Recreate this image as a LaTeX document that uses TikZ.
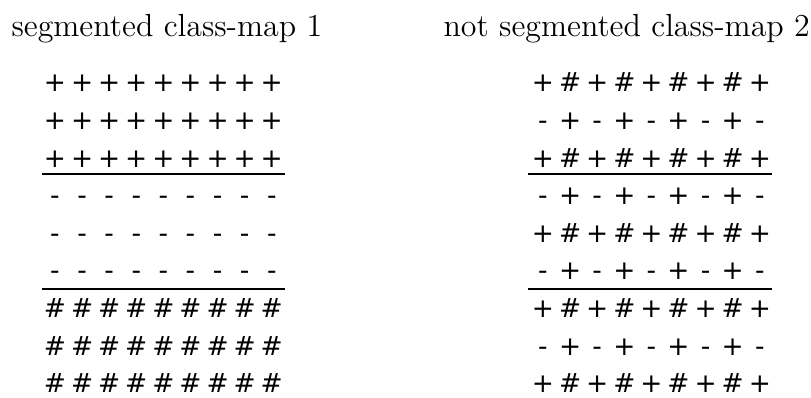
\documentclass[tikz,border=0pt]{standalone}
\usepackage{fontspec}
\newfontfamily\symfont{DejaVu Sans}
\usetikzlibrary{positioning}
\tikzset{
	maptitle/.style={anchor=base west, inner sep=0pt, font=\fontsize{11.5}{13}\selectfont},
	mapsym/.style={anchor=base, inner sep=0pt, font=\symfont\fontsize{9.5}{11}\selectfont},
	sepline/.style={line width=0.55pt},
}
\begin{document}
\begin{tikzpicture}[x=0.36pt, y=-0.36pt]
	\useasboundingbox (0,0) rectangle (811,398);
	\node[maptitle] (title1) at (11,37) {segmented class-map 1};
	\node[maptitle] (title2) at (443,37) {not segmented class-map 2};
	% map 1: three blocks of rows
	\foreach \row in {0,...,8}
		\foreach \col in {0,...,8} {
			\ifnum\row<3 \def\sym{+}\else\ifnum\row<6 \def\sym{-}\else\def\sym{\#}\fi\fi
			\node[mapsym] (l-\row-\col) at (55+\col*27.1, 92+\row*37.6) {\sym};
		}
	% map 2: alternating rows
	\foreach \row in {0,...,8}
		\foreach \col in {0,...,8} {
			\ifodd\row
				\ifodd\col \def\sym{+}\else\def\sym{-}\fi
			\else
				\ifodd\col \def\sym{\#}\else\def\sym{+}\fi
			\fi
			\node[mapsym] (r-\row-\col) at (543+\col*27.1, 92+\row*37.6) {\sym};
		}
	% separators
	\coordinate (lsepA-w) at (42,174);  \coordinate (lsepA-e) at (285,174);
	\coordinate (lsepB-w) at (42,289);  \coordinate (lsepB-e) at (285,289);
	\coordinate (rsepA-w) at (528,174); \coordinate (rsepA-e) at (772,174);
	\coordinate (rsepB-w) at (528,289); \coordinate (rsepB-e) at (772,289);
	\draw[sepline] (lsepA-w) -- (lsepA-e);
	\draw[sepline] (lsepB-w) -- (lsepB-e);
	\draw[sepline] (rsepA-w) -- (rsepA-e);
	\draw[sepline] (rsepB-w) -- (rsepB-e);
\end{tikzpicture}
\end{document}
